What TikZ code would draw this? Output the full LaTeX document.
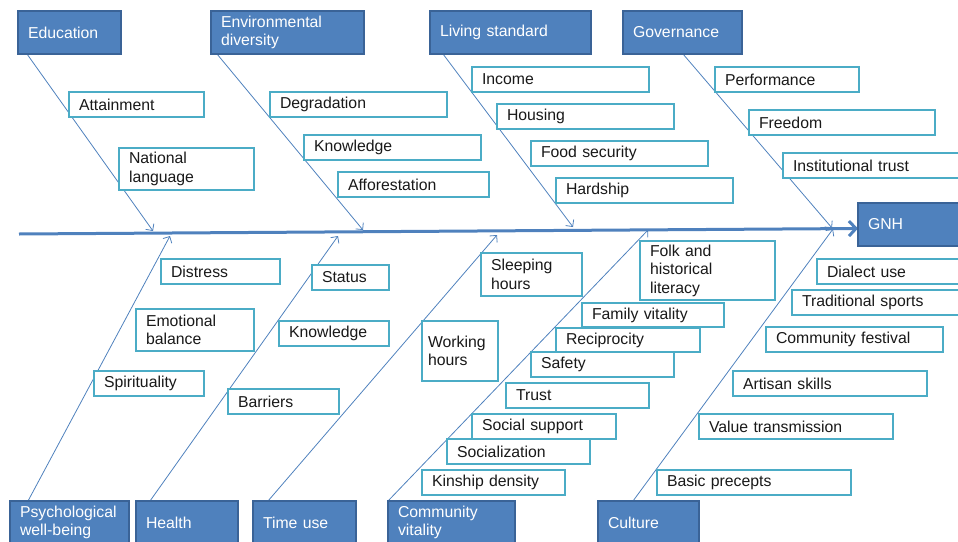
\documentclass[tikz,border=0pt]{standalone}
\usepackage{fontspec}
\setmainfont{Liberation Sans}
\usetikzlibrary{arrows.meta,backgrounds}
\definecolor{gnhblue}{HTML}{4F81BD}
\definecolor{gnhedge}{HTML}{3A6397}
\definecolor{gnhaqua}{HTML}{4BACC6}
\tikzset{
  catbox/.style={draw=gnhedge, fill=gnhblue, line width=1.6pt, text=white,
    anchor=north west, inner xsep=10pt, inner ysep=0pt, outer sep=0pt,
    align=left, minimum height=43pt, font=\fontsize{15.8}{18.5}\selectfont},
  itembox/.style={draw=gnhaqua, fill=white, line width=2pt, text=black!90,
    anchor=north west, inner xsep=10pt, inner ysep=0pt, outer sep=0pt,
    align=left, minimum height=25pt, font=\fontsize{15.8}{18.5}\selectfont},
  bone/.style={gnhblue, line width=0.8pt, -{Straight Barb[length=5pt,width=10pt]}},
  mainbone/.style={gnhblue, line width=3pt, -{Straight Barb[length=7pt,width=15pt]}}
}
\begin{document}
\begin{tikzpicture}[x=1pt,y=-1pt]
        \useasboundingbox (0,0) rectangle (958,541);
        \clip (0,0) rectangle (958,541);

        % Categories (top)
        \node[catbox, text width=83pt] (edu) at (18,11) {Education};
        \node[catbox, text width=133pt] (env) at (211,11) {Environmental\\diversity};
        \node[catbox, text width=141pt] (liv) at (430,11) {Living standard};
        \node[catbox, text width=99pt] (gov) at (623,11) {Governance};
        \node[catbox, text width=100pt] (gnh) at (858,203) {GNH};

        % Categories (bottom)
        \node[catbox, text width=99pt] (psy) at (10,501) {Psychological\\well-being};
        \node[catbox, text width=82pt] (hea) at (136,501) {Health};
        \node[catbox, text width=83pt] (tim) at (253,501) {Time use};
        \node[catbox, text width=107pt] (com) at (388,501) {Community\\vitality};
        \node[catbox, text width=81pt] (cul) at (598,501) {Culture};

        % Indicators (top)
        \node[itembox, text width=115pt] (attain) at (69,92) {Attainment};
        \node[itembox, text width=115pt, minimum height=42pt] (natlang) at (119,148) {National\\language};
        \node[itembox, text width=157pt] (degrad) at (270,92) {Degradation};
        \node[itembox, text width=157pt] (knowE) at (304,135) {Knowledge};
        \node[itembox, text width=131pt] (affor) at (338,172) {Afforestation};
        \node[itembox, text width=157pt] (income) at (472,67) {Income};
        \node[itembox, text width=157pt] (housing) at (497,104) {Housing};
        \node[itembox, text width=157pt] (food) at (531,141) {Food security};
        \node[itembox, text width=157pt] (hardship) at (556,178) {Hardship};
        \node[itembox, text width=124pt] (perf) at (715,67) {Performance};
        \node[itembox, text width=166pt] (freedom) at (749,110) {Freedom};
        \node[itembox, text width=180pt] (inst) at (783,153) {Institutional trust};

        % Indicators (bottom)
        \node[itembox, text width=99pt] (distress) at (161,259) {Distress};
        \node[itembox, text width=98pt, minimum height=42pt] (emo) at (136,309) {Emotional\\balance};
        \node[itembox, text width=90pt] (spirit) at (94,371) {Spirituality};
        \node[itembox, text width=57pt] (status) at (312,265) {Status};
        \node[itembox, text width=90pt] (knowH) at (279,321) {Knowledge};
        \node[itembox, text width=91pt] (barriers) at (228,389) {Barriers};
        \node[itembox, text width=64pt, inner xsep=6pt, minimum height=60pt] (working) at (422,321) {Working\\hours};
        \node[itembox, text width=81pt, minimum height=43pt] (sleeping) at (481,253) {Sleeping\\hours};
        \node[itembox, text width=115pt, minimum height=59pt] (folk) at (640,241) {Folk and\\historical\\literacy};
        \node[itembox, text width=122pt, minimum height=24pt] (family) at (582,303) {Family vitality};
        \node[itembox, text width=124pt, minimum height=24pt] (recip) at (556,328) {Reciprocity};
        \node[itembox, text width=123pt] (safety) at (531,352) {Safety};
        \node[itembox, text width=123pt] (trust) at (506,383) {Trust};
        \node[itembox, text width=124pt] (socsup) at (472,414) {Social support};
        \node[itembox, text width=123pt] (socialz) at (447,439) {Socialization};
        \node[itembox, text width=123pt] (kinship) at (422,470) {Kinship density};
        \node[itembox, text width=140pt] (dialect) at (817,259) {Dialect use};
        \node[itembox, text width=160pt] (trad) at (792,290) {Traditional sports};
        \node[itembox, text width=157pt] (festival) at (766,327) {Community festival};
        \node[itembox, text width=174pt] (artisan) at (733,371) {Artisan skills};
        \node[itembox, text width=174pt] (value) at (699,414) {Value transmission};
        \node[itembox, text width=174pt] (precepts) at (657,470) {Basic precepts};

        % Bone ends on the spine
        \coordinate (spL) at (19,234);
        \coordinate (eduT) at (153,231);
        \coordinate (envT) at (363,230);
        \coordinate (livT) at (573,227);
        \coordinate (govT) at (832,228);
        \coordinate (psyT) at (170,236);
        \coordinate (heaT) at (338,236);
        \coordinate (timT) at (497,235);
        \coordinate (comT) at (648,230);
        \coordinate (culT) at (833,229);

        \begin{scope}[on background layer]
        % Spine
        \draw[mainbone] (spL) -- ([yshift=-4pt]gnh.west);

        % Top bones
        \draw[bone] ([xshift=9pt]edu.south west) -- (eduT);
        \draw[bone] ([xshift=6pt]env.south west) -- (envT);
        \draw[bone] ([xshift=13pt]liv.south west) -- (livT);
        \draw[bone] ([xshift=60pt]gov.south west) -- (govT);

        % Bottom bones
        \draw[bone] ([xshift=18pt]psy.north west) -- (psyT);
        \draw[bone] ([xshift=14pt]hea.north west) -- (heaT);
        \draw[bone] ([xshift=15pt]tim.north west) -- (timT);
        \draw[bone] (com.north west) -- (comT);
        \draw[bone] ([xshift=35pt]cul.north west) -- (culT);
        \end{scope}
    \end{tikzpicture}
\end{document}
